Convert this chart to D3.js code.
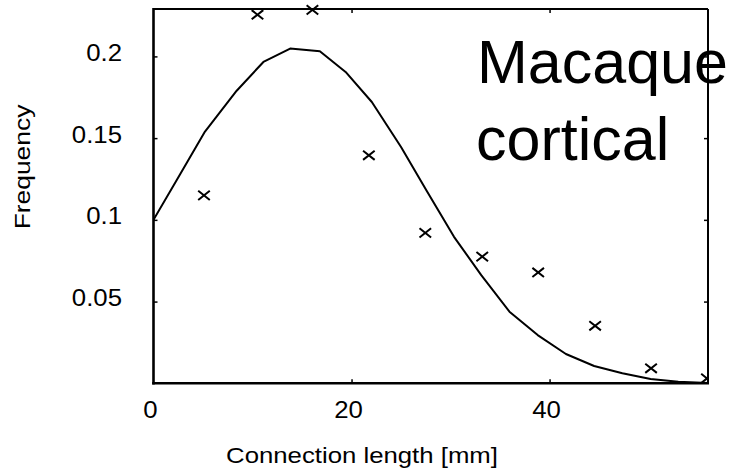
<!DOCTYPE html>
<html>
<head>
<meta charset="utf-8">
<script src="https://cdn.jsdelivr.net/npm/d3@7"></script>
<style>
  html, body { margin: 0; padding: 0; background: #fff; }
  svg { display: block; }
  text { font-family: "Liberation Sans", Arial, sans-serif; fill: #000; }
</style>
</head>
<body>
<svg id="chart" width="739" height="469"></svg>
<script>
// Observed connection-length histogram (bin centres, mm) and frequencies
const binCentres = [5.1, 10.5, 16.05, 21.75, 27.45, 33.2, 38.85, 44.6, 50.25, 55.9];
const observedFreq = [0.115, 0.2255, 0.2285, 0.1395, 0.092, 0.0775, 0.0678, 0.0352, 0.0092, 0.003];

// Model curve
const modelLength = [0, 2.6, 5.2, 8.4, 11.1, 13.8, 16.8, 19.4, 22.05, 25.0, 27.6, 30.35, 33.1, 35.95, 38.8, 41.65, 44.5, 47.35, 50.2, 53.0, 56];
const modelFreq = [0.1, 0.127, 0.154, 0.179, 0.1966, 0.2048, 0.2031, 0.1905, 0.1721, 0.1446, 0.1177, 0.0896, 0.0662, 0.0438, 0.0295, 0.0179, 0.0106, 0.0061, 0.0026, 0.001, 0.0002];

// Axis ticks
const xTicks = [0, 20, 40];
const yTicks = [0.05, 0.1, 0.15, 0.2];
const yTickLabels = ["0.05", "0.1", "0.15", "0.2"];

const svg = d3.select("#chart");
const plotLeft = 153.5, plotRight = 708, plotTop = 9, plotBottom = 383.3;

const x = d3.scaleLinear().domain([0, 56]).range([plotLeft, plotRight]);
const y = d3.scaleLinear().domain([0, 0.229]).range([plotBottom, plotTop]);

// stretch a text element along its baseline
function stretch(sel, factor) {
  sel.each(function () {
    const w = this.getComputedTextLength();
    d3.select(this).attr("textLength", w * factor).attr("lengthAdjust", "spacingAndGlyphs");
  });
}

// Corner annotation
const note = svg.append("g").style("font-size", "61px");
note.append("text").attr("x", 477).attr("y", 83).text("Macaque");
note.append("text").attr("x", 476).attr("y", 160).text("cortical");

// Clip for the marks
svg.append("defs").append("clipPath").attr("id", "plotclip")
  .append("rect").attr("x", plotLeft).attr("y", 0).attr("width", plotRight - plotLeft).attr("height", plotBottom);

const plot = svg.append("g").attr("clip-path", "url(#plotclip)");

// Model line
const line = d3.line().x((d, i) => x(modelLength[i])).y(d => y(d));
plot.append("path")
  .datum(modelFreq)
  .attr("d", line)
  .attr("fill", "none")
  .attr("stroke", "#000")
  .attr("stroke-width", 2)
  .attr("stroke-linejoin", "round");

// Observed points as crosses
const hw = 5.8, hh = 4.6;
plot.selectAll("path.cross")
  .data(observedFreq)
  .join("path")
  .attr("class", "cross")
  .attr("d", (d, i) => {
    const cx = x(binCentres[i]), cy = y(d);
    return `M${cx - hw},${cy - hh}L${cx + hw},${cy + hh}M${cx - hw},${cy + hh}L${cx + hw},${cy - hh}`;
  })
  .attr("stroke", "#000")
  .attr("stroke-width", 2)
  .attr("fill", "none");

// Axes: bottom/left with labels, top/right tick-only, all ticks pointing inward
const tickLen = 4;
const xAxisB = d3.axisBottom(x).tickValues(xTicks.filter(v => v > 0)).tickSizeInner(-tickLen).tickSizeOuter(0).tickFormat("");
const xAxisT = d3.axisTop(x).tickValues(xTicks.filter(v => v > 0)).tickSizeInner(-tickLen).tickSizeOuter(0).tickFormat("");
const yAxisL = d3.axisLeft(y).tickValues(yTicks).tickSizeInner(-tickLen).tickSizeOuter(0).tickFormat("");
const yAxisR = d3.axisRight(y).tickValues(yTicks).tickSizeInner(-tickLen).tickSizeOuter(0).tickFormat("");

function styleAxis(g) {
  g.select(".domain").remove();
  g.selectAll(".tick line").attr("stroke", "#000").attr("stroke-width", 1.5);
}
svg.append("g").attr("transform", `translate(0,${plotBottom})`).call(xAxisB).call(styleAxis);
svg.append("g").attr("transform", `translate(0,${plotTop})`).call(xAxisT).call(styleAxis);
svg.append("g").attr("transform", `translate(${plotLeft},0)`).call(yAxisL).call(styleAxis);
svg.append("g").attr("transform", `translate(${plotRight},0)`).call(yAxisR).call(styleAxis);

// Frame
svg.append("line").attr("x1", plotLeft).attr("x2", plotRight).attr("y1", plotTop).attr("y2", plotTop)
  .attr("stroke", "#000").attr("stroke-width", 2);
svg.append("line").attr("x1", plotRight).attr("x2", plotRight).attr("y1", plotTop).attr("y2", plotBottom)
  .attr("stroke", "#000").attr("stroke-width", 2);
svg.append("line").attr("x1", plotLeft).attr("x2", plotLeft).attr("y1", plotTop - 1).attr("y2", plotBottom + 1.3)
  .attr("stroke", "#000").attr("stroke-width", 2.6);
svg.append("line").attr("x1", plotLeft - 1.3).attr("x2", plotRight + 1).attr("y1", plotBottom).attr("y2", plotBottom)
  .attr("stroke", "#000").attr("stroke-width", 2.6);

// Tick labels
svg.append("g").selectAll("text")
  .data(xTicks)
  .join("text")
  .attr("x", d => x(d) - 3)
  .attr("y", 418)
  .attr("text-anchor", "middle")
  .style("font-size", "23px")
  .text(d => d)
  .call(stretch, 1.12);

svg.append("g").selectAll("text")
  .data(yTicks)
  .join("text")
  .attr("x", 122)
  .attr("y", d => y(d) + 4.5)
  .attr("text-anchor", "end")
  .style("font-size", "23px")
  .text((d, i) => yTickLabels[i])
  .call(stretch, 1.12);

// Axis titles
svg.append("text")
  .attr("x", 362)
  .attr("y", 463)
  .attr("text-anchor", "middle")
  .style("font-size", "22px")
  .text("Connection length [mm]")
  .call(stretch, 1.17);

svg.append("text")
  .attr("transform", "translate(30,167) rotate(-90)")
  .attr("text-anchor", "middle")
  .style("font-size", "22px")
  .text("Frequency")
  .call(stretch, 1.2);
</script>
</body>
</html>
